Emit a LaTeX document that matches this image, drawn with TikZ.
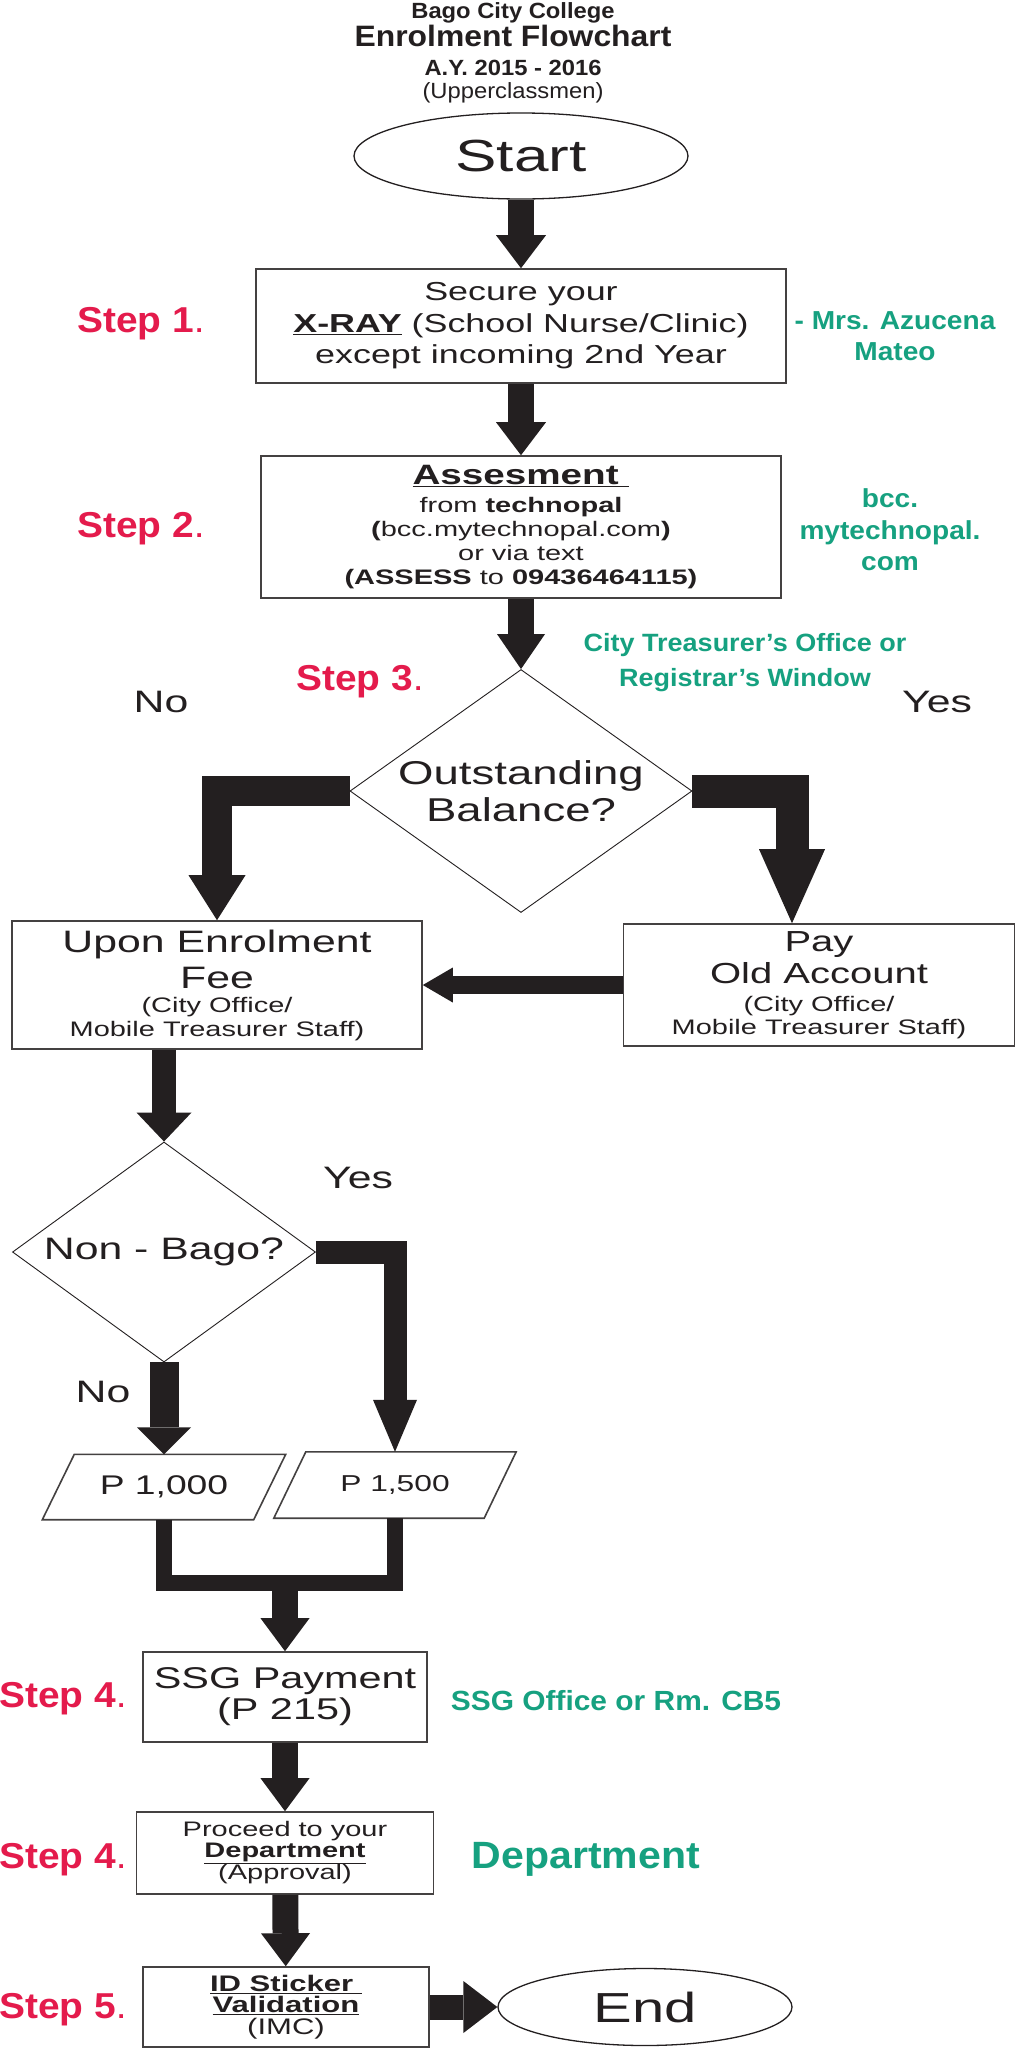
\documentclass[tikz,border=0pt]{standalone}
\usepackage{fontspec}
\setmainfont{Liberation Sans}[FakeStretch=1.38]
\newfontfamily\tagfont{Liberation Sans}[FakeStretch=1.08]
\usetikzlibrary{shapes.geometric,arrows.meta}
\definecolor{ink}{RGB}{35,31,32}
\definecolor{stepred}{RGB}{228,27,76}
\definecolor{placegreen}{RGB}{22,161,128}
\newcommand\setfs[2]{\fontsize{#1}{#2}\selectfont}

\begin{document}
\begin{tikzpicture}[x=1pt,y=-1pt,
        box/.style={draw=ink!85,line width=1.6pt,inner sep=0pt,align=center,text=ink},
        oval/.style={draw=ink,line width=1.3pt,ellipse,inner sep=0pt,text=ink},
        choice/.style={draw=ink,line width=0.9pt,diamond,inner sep=0pt,align=center,text=ink},
        slanted/.style={inner sep=0pt,text=ink},
        arr/.style n args={3}{draw=ink,line width=#1,-{Triangle[length=#2,width=#3,line width=0pt]}},
        steplabel/.style={anchor=base,text=stepred,font=\tagfont\bfseries\setfs{36}{40}},
        place/.style={align=center,text=placegreen,font=\tagfont\bfseries\setfs{26}{31}},
        answer/.style={anchor=base,text=ink,font=\setfs{31}{36}},
        heading/.style={anchor=base,text=ink,font=\tagfont\bfseries\setfs{22}{24}}]

    \fill[white] (0,0) rectangle (1016,2048);
    \useasboundingbox (0,0) rectangle (1016,2048);

    \node[heading] (college) at (513,18) {Bago City College};
    \node[heading,font=\tagfont\bfseries\setfs{29.5}{32}] (title) at (513,46) {Enrolment Flowchart};
    \node[heading] (year) at (513,75) {A.Y. 2015 - 2016};
    \node[heading,font=\tagfont\setfs{22}{24}] (group) at (513,98) {(Upperclassmen)};

    \node[oval,minimum width=334pt,minimum height=86pt,font=\setfs{45}{50}] (start) at (521,156) {Start};
    \node[box,minimum width=530pt,minimum height=114pt,font=\setfs{26}{31.5}] (xray) at (521,326)
        {Secure your\\\underline{\textbf{X-RAY}} (School Nurse/Clinic)\\except incoming 2nd Year};
    \node[box,minimum width=520pt,minimum height=142pt,font=\setfs{21}{24}] (assess) at (521,527)
        {{\setfs{28}{28}\underline{\textbf{Assesment\ }}}\\[4pt]from \textbf{technopal}\\
         \textbf{(}bcc.mytechnopal.com\textbf{)}\\or via text\\\textbf{(ASSESS} to \textbf{09436464115)}};
    \node[choice,aspect=1.41,minimum width=342pt,minimum height=243pt,font=\setfs{33}{37}] (ob) at (521,791)
        {Outstanding\\Balance?};
    \node[box,minimum width=410pt,minimum height=128pt,font=\setfs{31}{36}] (upon) at (217,985)
        {Upon Enrolment\\Fee\\[-12pt]{\setfs{21}{24}(City Office/}\\[-12pt]{\setfs{21}{24}Mobile Treasurer Staff)}};
    \node[box,minimum width=391pt,minimum height=122pt,font=\setfs{29}{32}] (pay) at (819,985)
        {Pay\\Old Account\\[-4pt]{\setfs{21}{24}(City Office/}\\[-9pt]{\setfs{21}{24}Mobile Treasurer Staff)}};
    \node[choice,aspect=1.38,minimum width=303pt,minimum height=220pt,font=\setfs{31}{36}] (nb) at (164,1252)
        {Non - Bago?};
    \node[slanted,minimum width=211pt,minimum height=65pt,font=\setfs{27}{30}] (p1) at (164,1487) {P 1,000};
    \node[slanted,minimum width=210pt,minimum height=66pt,font=\setfs{23}{26}] (p2) at (395,1485) {P 1,500};
    \foreach \p in {p1,p2}
        \draw[draw=ink!85,line width=1.6pt] ([xshift=16pt]\p.north west) -- ([xshift=16pt]\p.north east)
            -- ([xshift=-16pt]\p.south east) -- ([xshift=-16pt]\p.south west) -- cycle;
    \node[box,minimum width=284pt,minimum height=90pt,font=\setfs{30}{31}] (ssg) at (285,1697) {SSG Payment\\(P 215)};
    \node[box,minimum width=297pt,minimum height=82pt,font=\setfs{21}{20.5}] (dept) at (285,1853)
        {Proceed to your\\\underline{\textbf{Department}}\\(Approval)};
    \node[box,minimum width=286pt,minimum height=80pt,font=\setfs{22.5}{21.5}] (idv) at (286,2007)
        {\underline{\textbf{ID Sticker\ }}\\\underline{\textbf{Validation}}\\(IMC)};
    \node[oval,minimum width=294pt,minimum height=77pt,font=\setfs{42}{46}] (finish) at (645,2007) {End};

    \node[steplabel] (step1) at (141,332) {Step 1\mdseries.};
    \node[steplabel] (step2) at (141,537) {Step 2\mdseries.};
    \node[steplabel] (step3) at (360,690) {Step 3\mdseries.};
    \node[steplabel] (step4) at (63,1707) {Step 4\mdseries.};
    \node[steplabel] (step4b) at (63,1868) {Step 4\mdseries.};
    \node[steplabel] (step5) at (63,2018) {Step 5\mdseries.};

    \node[place] (nurse) at (895,336) {- Mrs. Azucena\\Mateo};
    \node[place,font=\tagfont\bfseries\setfs{26}{31.5}] (site) at (890,530) {bcc.\\mytechnopal.\\com};
    \node[place,font=\tagfont\bfseries\setfs{25}{35}] (office) at (745,663) {City Treasurer’s Office or\\Registrar’s Window};
    \node[place,anchor=base,font=\tagfont\bfseries\setfs{27.7}{30}] (room) at (616,1710) {SSG Office or Rm. CB5};
    \node[place,anchor=base,font=\tagfont\bfseries\setfs{38}{40}] (deptname) at (586,1868) {Department};

    \node[answer] (no1) at (161,712) {No};
    \node[answer] (yes1) at (937,712) {Yes};
    \node[answer] (yes2) at (358,1188) {Yes};
    \node[answer] (no2) at (103,1402) {No};

    \coordinate (mid) at (285,1583);

    \draw[arr={26pt}{33pt}{50pt}] (start) -- (xray);
    \draw[arr={26pt}{33pt}{50pt}] (xray) -- (assess);
    \draw[arr={26pt}{35pt}{48pt}] (assess) -- (ob);
    \draw[arr={30pt}{45pt}{57pt}] (ob.west) -| (upon.north);
    \draw[arr={33pt}{74pt}{66pt}] (ob.east) -| ([xshift=-27pt]pay.north);
    \draw[arr={18pt}{30pt}{35pt}] (pay.west) -- (upon.east);
    \draw[arr={24pt}{29pt}{55pt}] (upon.south -| nb.north) -- (nb.north);
    \draw[arr={23pt}{52pt}{44pt}] (nb.east) -| (p2.north);
    \draw[arr={29pt}{27pt}{54pt}] (nb.south) -- (p1.north);
    \draw[draw=ink,line width=16pt] (p1.south) |- (mid) -| (p2.south);
    \draw[arr={26pt}{33pt}{49pt}] (mid) -- (ssg);
    \draw[arr={26pt}{33pt}{49pt}] (ssg) -- (dept);
    \draw[arr={26pt}{33pt}{49pt}] (dept) -- (idv);
    \draw[arr={25pt}{34pt}{52pt}] (idv) -- (finish);
\end{tikzpicture}
\end{document}
